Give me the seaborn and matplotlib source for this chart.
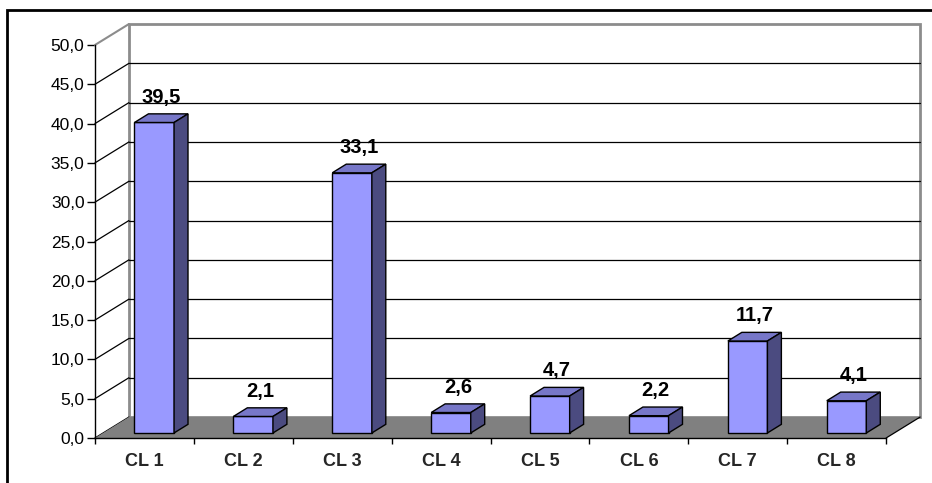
import numpy as np
import pandas as pd
import matplotlib
matplotlib.use("Agg")
import matplotlib.pyplot as plt
import seaborn as sns
from matplotlib.patches import Polygon, Rectangle

# valeurs
clusters = ["CL 1", "CL 2", "CL 3", "CL 4", "CL 5", "CL 6", "CL 7", "CL 8"]
values = [39.5, 2.1, 33.1, 2.6, 4.7, 2.2, 11.7, 4.1]
yticks = [0, 5, 10, 15, 20, 25, 30, 35, 40, 45, 50]

sns.set_style("white")
plt.rcParams["font.family"] = ["Liberation Sans", "DejaVu Sans"]

FRONT = "#9999FF"
TOP = "#7777C8"
SIDE = "#4B4B80"
FLOOR = "#808080"
WALL_EDGE = "#8C8C8C"

# profondeur 3D (en unites de donnees)
DX, DY = 0.344, 2.67
# position de la face avant des barres dans la profondeur
OX, OY = 0.10, 0.64
# profondeur propre des barres
BX, BY = 0.141, 1.10

df = pd.DataFrame({"cluster": clusters, "value": values})

fig = plt.figure(figsize=(9.32, 4.83), dpi=100)
ax = fig.add_axes([0, 0, 1, 1])
ax.set_facecolor("none")

n = len(clusters)
x0, x1 = -0.5, n - 0.5
ymax = yticks[-1]

# mur du fond
ax.add_patch(Rectangle((x0 + DX, DY), x1 - x0, ymax, facecolor="white",
                       edgecolor=WALL_EDGE, lw=2, zorder=0.5))
for v in yticks[1:-1]:
    ax.plot([x0 + DX, x1 + DX], [v + DY, v + DY], color="black", lw=0.9, zorder=0.6)

# mur de gauche
for v in yticks:
    c = WALL_EDGE if v == ymax else "black"
    ax.plot([x0, x0 + DX], [v, v + DY], color=c, lw=0.9 if v < ymax else 1.5, zorder=0.7)

# sol
ax.add_patch(Polygon([(x0, 0), (x1, 0), (x1 + DX, DY), (x0 + DX, DY)],
                     closed=True, facecolor=FLOOR, edgecolor="none", zorder=0.8))
ax.plot([x1, x1 + DX], [0, DY], color="black", lw=0.9, zorder=0.9)

sns.barplot(data=df, x="cluster", y="value", color=FRONT, saturation=1,
            width=0.4, edgecolor="black", linewidth=1, errorbar=None, ax=ax,
            zorder=3)

bars = list(ax.containers[0])
for p, v in zip(bars, values):
    p.set_x(p.get_x() + OX)
    p.set_y(OY)
    p.set_height(v)
    xl = p.get_x()
    xr = xl + p.get_width()
    yb, yt = OY, OY + v
    top = Polygon([(xl, yt), (xr, yt), (xr + BX, yt + BY), (xl + BX, yt + BY)],
                  closed=True, facecolor=TOP, edgecolor="black", lw=1, zorder=3)
    side = Polygon([(xr, yb), (xr + BX, yb + BY), (xr + BX, yt + BY), (xr, yt)],
                   closed=True, facecolor=SIDE, edgecolor="black", lw=1, zorder=3)
    ax.add_patch(top)
    ax.add_patch(side)
    ax.annotate(f"{v:.1f}".replace(".", ","),
                xy=((xl + xr) / 2 + BX / 2, yt + BY), xytext=(0, 5),
                textcoords="offset points", ha="center", va="bottom",
                fontsize=14.5, fontweight="bold", color="black", zorder=4)

ax.set_xlim(-1.460, 7.964)
ax.set_ylim(-5.725, 55.725)

# axes avant
for s in ["top", "right"]:
    ax.spines[s].set_visible(False)
ax.spines["left"].set_position(("data", x0))
ax.spines["left"].set_bounds(0, ymax)
ax.spines["bottom"].set_position(("data", 0))
ax.spines["bottom"].set_bounds(x0, x1)
for s in ["left", "bottom"]:
    ax.spines[s].set_color("black")
    ax.spines[s].set_linewidth(1)
    ax.spines[s].set_zorder(2.5)

ax.set_yticks(yticks)
ax.set_yticklabels([f"{v:.1f}".replace(".", ",") for v in yticks])
ax.tick_params(axis="y", direction="out", length=5.5, width=1, pad=2,
               labelsize=12.5, colors="black", left=True)

ax.set_xticks(np.arange(x0, x1 + 0.01, 1))
ax.set_xticklabels([])
ax.set_xticks(range(n), minor=True)
ax.set_xticklabels(clusters, minor=True, fontweight="bold", fontsize=13)
ax.tick_params(axis="x", which="major", direction="out", length=4, width=1,
               bottom=True, colors="black")
ax.tick_params(axis="x", which="minor", length=0, pad=11)
ax.set_xlabel("")
ax.set_ylabel("")

# cadre exterieur
fig.add_artist(Rectangle((7 / 932, -0.1), 1.2, 1 - 10 / 483 + 0.1,
                         transform=fig.transFigure, fill=False,
                         edgecolor="black", lw=2))

fig.savefig("out.png", dpi=100)
